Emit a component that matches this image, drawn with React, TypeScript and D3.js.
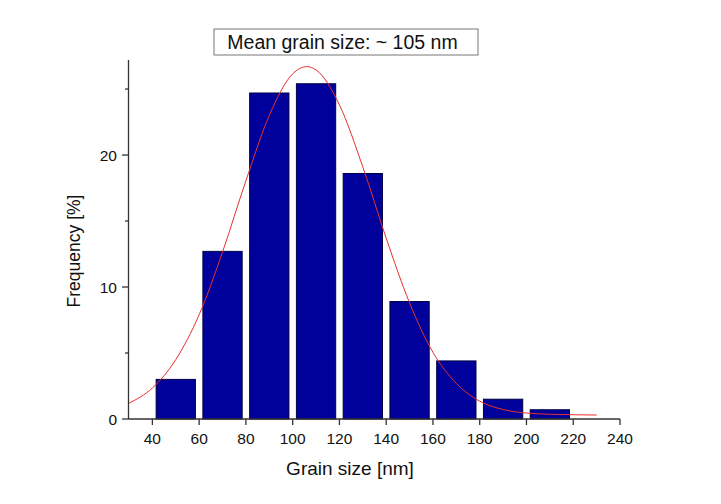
import React from "react";
import * as d3 from "d3";

const binStarts = [40, 60, 80, 100, 120, 140, 160, 180, 200];
const binWidth = 20;
const frequencies = [3.0, 12.7, 24.7, 25.4, 18.6, 8.9, 4.4, 1.5, 0.7];
const fitX = [30, 40, 50, 60, 70, 80, 90, 100, 106, 110, 120, 130, 140, 150, 160, 170, 180, 190, 200, 210, 220, 230];
const fitY = [1.2, 2.35, 4.5, 7.9, 12.65, 18.05, 23.0, 26.15, 26.7, 26.45, 23.8, 19.1, 13.7, 8.8, 5.05, 2.7, 1.35, 0.72, 0.45, 0.36, 0.32, 0.3];
const xTicks = [40, 60, 80, 100, 120, 140, 160, 180, 200, 220, 240];
const yTicks = [0, 10, 20];
const yMinorTicks = [5, 15, 25];
const title = "Mean grain size: ~ 105 nm";
const xLabel = "Grain size [nm]";
const yLabel = "Frequency [%]";

const W = 721, H = 504;
const FONT = "'Liberation Sans', Arial, sans-serif";

export default function App() {
  const x = d3.scaleLinear().domain([30, 240]).range([129, 620]);
  const y = d3.scaleLinear().domain([0, 27.2]).range([419, 60]);
  const line = d3.line<number>()
    .x((_, i) => x(fitX[i]))
    .y((d) => y(d))
    .curve(d3.curveMonotoneX);
  const inset = 1.6;
  return (
    <svg width={W} height={H} style={{ position: "absolute", left: 0, top: 0, background: "#fff" }} fontFamily={FONT}>
      <rect x={0} y={0} width={W} height={H} fill="#fff" />
      {/* title box */}
      <rect x={214} y={29} width={264} height={26} fill="#fff" stroke="#777" strokeWidth={1} />
      <text x={342.5} y={48.5} textAnchor="middle" fontSize={19.5} fill="#111">{title}</text>
      {/* bars */}
      {binStarts.map((s, i) => (
        <rect key={i}
          x={x(s + inset)}
          y={y(frequencies[i])}
          width={x(s + binWidth - inset) - x(s + inset)}
          height={y(0) - y(frequencies[i])}
          fill="#00009a" stroke="#000040" strokeWidth={1} />
      ))}
      {/* fit curve */}
      <path d={line(fitY) || ""} fill="none" stroke="#e8302c" strokeWidth={1} />
      {/* axes */}
      <line x1={x(30) - 0.5} x2={x(240)} y1={y(0)} y2={y(0)} stroke="#333" strokeWidth={1.3} />
      <line x1={x(30) - 0.5} x2={x(30) - 0.5} y1={y(0)} y2={y(27.2)} stroke="#333" strokeWidth={1.3} />
      {xTicks.map((t) => (
        <g key={t}>
          <line x1={x(t)} x2={x(t)} y1={y(0)} y2={y(0) + 6} stroke="#333" strokeWidth={1.3} />
          <text x={x(t)} y={y(0) + 24.5} textAnchor="middle" fontSize={15.5} fill="#111">{t}</text>
        </g>
      ))}
      {yTicks.map((t) => (
        <g key={t}>
          <line x1={x(30) - 0.5} x2={x(30) - 7} y1={y(t)} y2={y(t)} stroke="#333" strokeWidth={1.3} />
          <text x={x(30) - 12} y={y(t) + 6} textAnchor="end" fontSize={15.5} fill="#111">{t}</text>
        </g>
      ))}
      {yMinorTicks.map((t) => (
        <line key={t} x1={x(30) - 0.5} x2={x(30) - 4} y1={y(t)} y2={y(t)} stroke="#333" strokeWidth={1.3} />
      ))}
      <text x={350} y={475} textAnchor="middle" fontSize={19} fill="#111">{xLabel}</text>
      <text transform={`translate(80,251) rotate(-90)`} textAnchor="middle" fontSize={17.5} fill="#111">{yLabel}</text>
    </svg>
  );
}
